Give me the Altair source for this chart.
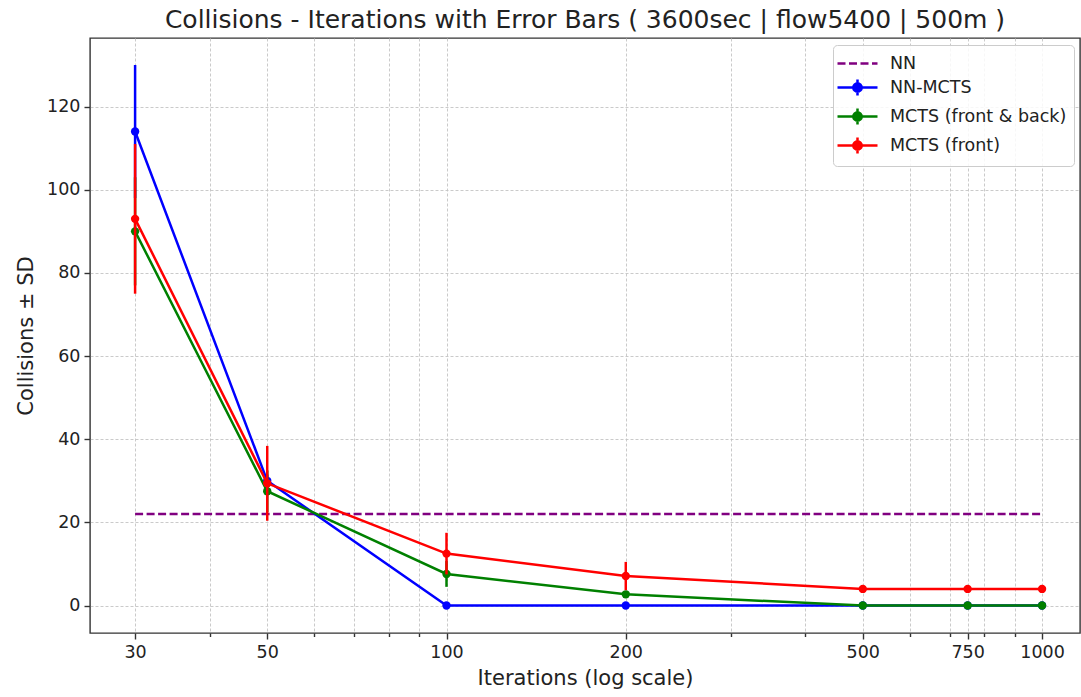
import altair as alt
import pandas as pd

# ---- data ----
iterations = [30, 50, 100, 200, 500, 750, 1000]
series_names = ["NN", "NN-MCTS", "MCTS (front & back)", "MCTS (front)"]
series_colors = ["purple", "blue", "green", "red"]

nn_value = 22
nn_mcts_mean = [114, 30, 0, 0, 0, 0, 0]
nn_mcts_sd = [16, 1.5, 0, 0, 0, 0, 0]
fb_mean = [90, 27.5, 7.6, 2.7, 0, 0, 0]
fb_sd = [13, 5, 3.1, 0.5, 0, 0, 0]
front_mean = [93, 29.4, 12.5, 7.1, 4, 4, 4]
front_sd = [18, 9, 5, 3.4, 0, 0, 0]

major_ticks = [30, 50, 100, 200, 500, 750, 1000]
grid_ticks = [30, 40, 50, 60, 70, 80, 90, 100, 200, 300, 400, 500, 600, 700, 750, 800, 900, 1000]
y_ticks = [0, 20, 40, 60, 80, 100, 120]

rows = []
for name, means, sds in [
    ("NN-MCTS", nn_mcts_mean, nn_mcts_sd),
    ("MCTS (front & back)", fb_mean, fb_sd),
    ("MCTS (front)", front_mean, front_sd),
]:
    for it, m, s in zip(iterations, means, sds):
        rows.append({"series": name, "iterations": it, "mean": m, "sd": s})
df = pd.DataFrame(rows)
nn_df = pd.DataFrame({"series": ["NN", "NN"], "iterations": [iterations[0], iterations[-1]],
                      "mean": [nn_value, nn_value]})

FONT = "DejaVu Sans"
TXT = "#222222"
x_scale = alt.Scale(type="log", domain=[25.2, 1158], nice=False)
y_scale = alt.Scale(domain=[-6.6, 136.5], nice=False, zero=False)
color_scale = alt.Scale(domain=series_names, range=series_colors)

major_list = "[" + ",".join(str(v) for v in major_ticks) + "]"
x_axis = alt.Axis(
    title="Iterations (log scale)", values=grid_ticks, grid=True,
    labelExpr=f"indexof({major_list}, datum.value) >= 0 ? '' + datum.value : ''",
    labelOverlap=False, titlePadding=7,
    tickSize={"condition": {"test": f"indexof({major_list}, datum.value) >= 0", "value": 6}, "value": 3.5},
)
y_axis = alt.Axis(title="Collisions ± SD", values=y_ticks, grid=True, tickSize=6, titlePadding=10)

legend = alt.Legend(
    title=None, orient="none", legendX=743, legendY=7,
    symbolType={"expr": "datum.label == 'NN' ? 'M-2,0H2' : 'M-2,0H2M0,-0.8V0.8M0.42,0A0.42,0.42,0,1,1,-0.42,0A0.42,0.42,0,1,1,0.42,0Z'"},
    symbolDash={"expr": "datum.label == 'NN' ? [8, 3.5] : []"},
    symbolFillColor={"expr": "datum.label == 'NN' ? 'transparent' : scale('color', datum.value)"},
    symbolSize=400, symbolStrokeWidth=2.5, symbolOffset=6, labelOffset=21,
    padding=7, rowPadding=2, cornerRadius=4, labelLimit=400,
    strokeColor="#cccccc", fillColor="rgba(255,255,255,0.85)",
    labelFontSize=17.5, labelFont=FONT, labelColor=TXT,
)

base_x = alt.X("iterations:Q", scale=x_scale, axis=x_axis)
base_y = alt.Y("mean:Q", scale=y_scale, axis=y_axis)

nn_layer = alt.Chart(nn_df).mark_line(strokeDash=[8, 3.5], strokeWidth=2.5).encode(
    x=base_x, y=base_y,
    color=alt.Color("series:N", scale=color_scale, legend=legend),
)

layers = [nn_layer]
for name, col in zip(series_names[1:], series_colors[1:]):
    src = alt.Chart(df).transform_filter(alt.datum.series == name).transform_calculate(
        lo="datum.mean - datum.sd", hi="datum.mean + datum.sd")
    layers.append(src.mark_line(strokeWidth=2.5).encode(
        x=base_x, y=base_y,
        color=alt.Color("series:N", scale=color_scale, legend=legend)))
    layers.append(src.mark_rule(strokeWidth=2.5, color=col).encode(
        x=base_x, y=alt.Y("lo:Q", scale=y_scale, axis=y_axis), y2="hi:Q"))
    layers.append(src.mark_circle(size=70, opacity=1, color=col).encode(x=base_x, y=base_y))

chart = alt.layer(*layers).properties(
    width=990, height=595,
    background="white",
    autosize=alt.AutoSizeParams(type="none"),
    padding={"left": 90, "top": 38, "right": 1, "bottom": 64},
    title=alt.Title("Collisions - Iterations with Error Bars ( 3600sec | flow5400 | 500m )",
                    fontSize=25, font=FONT, fontWeight="normal", color=TXT,
                    anchor="middle", offset=5),
).configure_view(stroke="#333333", strokeWidth=1.4).configure_axis(
    labelFont=FONT, titleFont=FONT, labelFontSize=17.5, titleFontSize=21,
    titleFontWeight="normal", labelColor=TXT, titleColor=TXT,
    tickColor="#333333", domain=False, tickWidth=1.4, labelPadding=4,
    gridColor="#c4c4c4", gridDash=[3, 2], gridWidth=0.9,
)

chart.save("out.html", embed_options={"renderer": "svg", "actions": False})
